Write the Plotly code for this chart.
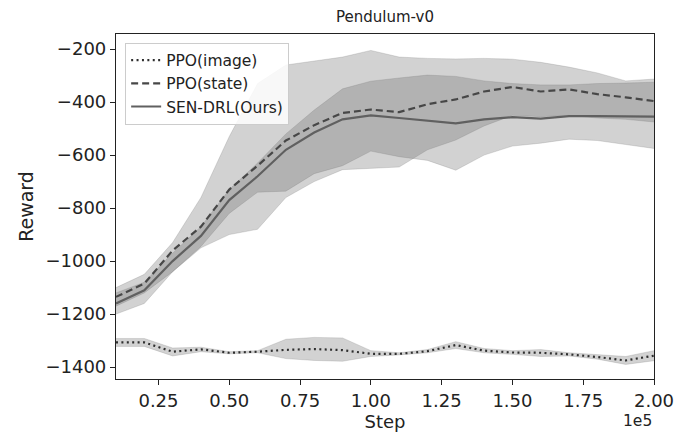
import plotly.graph_objects as go

steps = [10000, 20000, 30000, 40000, 50000, 60000, 70000, 80000, 90000, 100000,
         110000, 120000, 130000, 140000, 150000, 160000, 170000, 180000, 190000, 200000]

ppo_image_mean = [-1307, -1307, -1342, -1333, -1346, -1342, -1335, -1332, -1336, -1350,
                  -1350, -1340, -1317, -1338, -1345, -1346, -1352, -1362, -1375, -1357]
ppo_image_upper = [-1292, -1292, -1328, -1325, -1342, -1338, -1295, -1288, -1290, -1338,
                   -1346, -1334, -1304, -1330, -1338, -1334, -1346, -1354, -1360, -1338]
ppo_image_lower = [-1322, -1322, -1358, -1342, -1350, -1346, -1368, -1375, -1378, -1360,
                   -1354, -1346, -1330, -1346, -1352, -1360, -1358, -1370, -1390, -1376]

ppo_state_mean = [-1135, -1085, -960, -870, -730, -640, -545, -487, -441, -428,
                  -438, -408, -390, -360, -343, -360, -352, -370, -382, -396]
ppo_state_upper = [-1100, -1050, -930, -760, -530, -330, -260, -245, -230, -205,
                   -230, -235, -237, -235, -238, -250, -268, -290, -320, -313]
ppo_state_lower = [-1170, -1120, -1040, -950, -900, -880, -760, -700, -655, -650,
                   -645, -580, -543, -490, -450, -455, -450, -460, -465, -475]

sen_mean = [-1160, -1110, -1000, -905, -770, -680, -580, -515, -465, -450,
            -460, -470, -480, -465, -457, -462, -453, -453, -453, -455]
sen_upper = [-1120, -1080, -970, -870, -730, -630, -520, -430, -350, -321,
             -309, -298, -303, -320, -330, -335, -335, -330, -328, -325]
sen_lower = [-1200, -1160, -1040, -945, -820, -740, -736, -670, -640, -585,
             -606, -620, -657, -600, -566, -555, -540, -545, -560, -575]

x_tickvals = [25000, 50000, 75000, 100000, 125000, 150000, 175000, 200000]
x_ticktext = ["0.25", "0.50", "0.75", "1.00", "1.25", "1.50", "1.75", "2.00"]
y_tickvals = [-200, -400, -600, -800, -1000, -1200, -1400]
y_ticktext = ["\u2212200", "\u2212400", "\u2212600", "\u2212800", "\u22121000", "\u22121200", "\u22121400"]

FONT = "DejaVu Sans"
band_fill = "rgba(105,105,105,0.30)"
edge_col = "rgba(105,105,105,0.35)"
TXT = "#222222"

fig = go.Figure()


def add_band(lower, upper):
    fig.add_trace(go.Scatter(x=steps, y=lower, mode="lines", line=dict(width=0.6, color=edge_col),
                             showlegend=False, hoverinfo="skip"))
    fig.add_trace(go.Scatter(x=steps, y=upper, mode="lines", line=dict(width=0.6, color=edge_col),
                             fill="tonexty", fillcolor=band_fill, showlegend=False, hoverinfo="skip"))


add_band(ppo_image_lower, ppo_image_upper)
add_band(ppo_state_lower, ppo_state_upper)
add_band(sen_lower, sen_upper)

fig.add_trace(go.Scatter(x=steps, y=ppo_image_mean, mode="lines", name="PPO(image)",
                         line=dict(color="#2e2e2e", width=2.2, dash="2px,3.4px")))
fig.add_trace(go.Scatter(x=steps, y=ppo_state_mean, mode="lines", name="PPO(state)",
                         line=dict(color="#474747", width=2.2, dash="7px,4px")))
fig.add_trace(go.Scatter(x=steps, y=sen_mean, mode="lines", name="SEN-DRL(Ours)",
                         line=dict(color="#606060", width=2.2)))

fig.update_layout(
    width=698, height=438,
    margin=dict(l=116, r=44, t=34, b=59),
    paper_bgcolor="white", plot_bgcolor="white",
    font=dict(family=FONT, size=17, color=TXT),
    title=dict(text="Pendulum-v0", x=0.5516, xanchor="center", y=0.961, yanchor="middle",
               font=dict(family=FONT, size=15, color=TXT)),
    showlegend=True,
    legend=dict(x=0.017, y=0.975, xanchor="left", yanchor="top", traceorder="normal",
                bgcolor="rgba(255,255,255,0.85)", bordercolor="#cccccc", borderwidth=1,
                font=dict(family=FONT, size=15.5, color=TXT), tracegroupgap=0,
                itemwidth=30),
    xaxis=dict(range=[10000, 200000], tickmode="array", tickvals=x_tickvals, ticktext=x_ticktext,
               showgrid=False, zeroline=False, showline=True, mirror=True, linecolor=TXT,
               linewidth=1.2, ticks="outside", ticklen=5, tickcolor=TXT,
               title=dict(text="Step", font=dict(family=FONT, size=18), standoff=2),
               tickfont=dict(family=FONT, size=18)),
    yaxis=dict(range=[-1445, -143], tickmode="array", tickvals=y_tickvals, ticktext=y_ticktext,
               showgrid=False, zeroline=False, showline=True, mirror=True, linecolor=TXT,
               linewidth=1.2, ticks="outside", ticklen=5, tickcolor=TXT,
               title=dict(text="Reward", font=dict(family=FONT, size=19), standoff=6),
               tickfont=dict(family=FONT, size=18)),
)

fig.add_annotation(text="1e5", xref="paper", yref="paper", x=1.0, y=-0.122, xanchor="right", yanchor="middle",
                   showarrow=False, font=dict(family=FONT, size=15.5, color=TXT))

fig.write_html("out.html", config={"displayModeBar": False},
               post_script="document.body.style.margin='0';document.body.style.padding='0';")
